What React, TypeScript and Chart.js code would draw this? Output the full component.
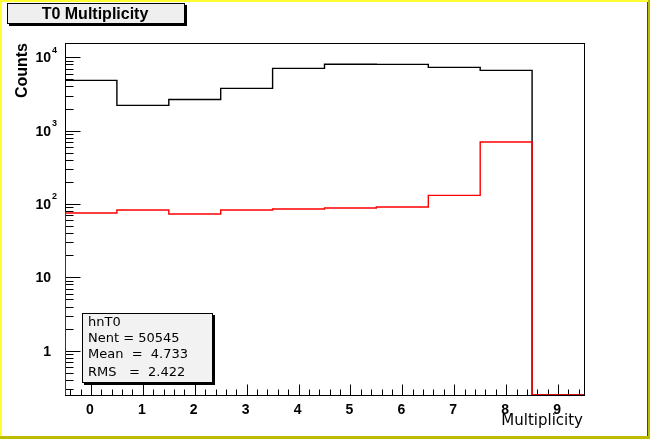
import React, { useEffect, useRef } from "react";
import { Chart, registerables } from "chart.js";

Chart.register(...registerables);

// ---- data ----
const BIN_EDGES = [-0.5, 0.5, 1.5, 2.5, 3.5, 4.5, 5.5, 6.5, 7.5, 8.5, 9.5];
const BLACK_COUNTS = [4850, 2210, 2660, 3770, 7060, 8040, 8010, 7300, 6640, 0];
const RED_COUNTS = [75.4, 82.8, 73.1, 82.8, 85.5, 88.2, 91.0, 131, 701, 0];
const X_TICK_LABELS = ["0", "1", "2", "3", "4", "5", "6", "7", "8", "9"];
const X_TICK_VALUES = [0, 1, 2, 3, 4, 5, 6, 7, 8, 9];
const Y_MAJOR_VALUES = [1, 10, 100, 1000, 10000];
const Y_LABEL_BASES = ["1", "10", "10", "10", "10"];
const Y_LABEL_EXPS = ["", "", "2", "3", "4"];
const X_MIN = -0.5;
const X_MAX = 9.5;
const Y_MIN = 0.249;
const Y_MAX = 15670;
const TITLE = "T0 Multiplicity";
const X_TITLE = "Multiplicity";
const Y_TITLE = "Counts";
const STATS_LINES = ["hnT0", "Nent = 50545", "Mean  =  4.733", "RMS   =  2.422"];

function histPoints(counts: number[]) {
  const pts: { x: number; y: number }[] = [];
  pts.push({ x: BIN_EDGES[0], y: Y_MIN });
  counts.forEach((c, i) => {
    pts.push({ x: BIN_EDGES[i], y: c > 0 ? c : Y_MIN });
  });
  const last = counts[counts.length - 1];
  pts.push({ x: BIN_EDGES[BIN_EDGES.length - 1], y: last > 0 ? last : Y_MIN });
  return pts;
}

const rootPlugin = {
  id: "rootStyle",
  beforeDraw(chart: any) {
    const { ctx, width, height } = chart;
    ctx.save();
    ctx.fillStyle = "#ffffff";
    ctx.fillRect(0, 0, width, height);
    ctx.fillStyle = "#ffff33";
    ctx.fillRect(0, 0, width, 2);
    ctx.fillRect(0, 0, 2, height);
    ctx.fillStyle = "#bcbc00";
    ctx.fillRect(width - 2, 0, 2, height);
    ctx.fillRect(0, height - 3, width, 3);
    ctx.fillStyle = "#e00000";
    ctx.fillRect(width - 3, 2, 1, height - 5);
    ctx.restore();
  },
  beforeDatasetsDraw(chart: any) {
    const { ctx, chartArea } = chart;
    const xs = chart.scales.x;
    const ys = chart.scales.y;
    const L = Math.round(chartArea.left);
    const R = Math.round(chartArea.right);
    const T = Math.round(chartArea.top);
    const B = Math.round(chartArea.bottom);
    ctx.save();
    ctx.strokeStyle = "#000000";
    ctx.lineWidth = 1;
    // frame
    ctx.strokeRect(L + 0.5, T + 0.5, R - L, B - T);
    // x ticks
    ctx.beginPath();
    for (let k = -2; k <= 47; k++) {
      const v = k / 5;
      const px = Math.round(xs.getPixelForValue(v)) + 0.5;
      const len = k % 5 === 0 ? 11 : 6;
      ctx.moveTo(px, B + 0.5);
      ctx.lineTo(px, B + 0.5 - len);
    }
    // y ticks
    for (let e = -1; e <= 4; e++) {
      for (let m = 1; m <= 9; m++) {
        const v = m * Math.pow(10, e);
        if (v < Y_MIN || v > Y_MAX) continue;
        const py = Math.round(ys.getPixelForValue(v)) + 0.5;
        const len = m === 1 ? 15 : 8;
        ctx.moveTo(L + 0.5, py);
        ctx.lineTo(L + 0.5 + len, py);
      }
    }
    ctx.stroke();

    // x labels
    ctx.fillStyle = "#000000";
    ctx.font = "bold 14px 'Liberation Sans'";
    ctx.textAlign = "center";
    ctx.textBaseline = "alphabetic";
    X_TICK_VALUES.forEach((v, i) => {
      const px = xs.getPixelForValue(v);
      ctx.fillText(X_TICK_LABELS[i], px - 1, 414);
    });
    // y labels
    Y_MAJOR_VALUES.forEach((v, i) => {
      const py = ys.getPixelForValue(v);
      ctx.font = "bold 14px 'Liberation Sans'";
      ctx.textAlign = "right";
      ctx.textBaseline = "middle";
      const exp = Y_LABEL_EXPS[i];
      ctx.fillText(Y_LABEL_BASES[i], 51, py + 1);
      if (exp) {
        ctx.font = "bold 9px 'Liberation Sans'";
        ctx.textAlign = "left";
        ctx.fillText(exp, 52, py - 7);
      }
    });
    // axis titles
    ctx.font = "15px 'DejaVu Sans'";
    ctx.textAlign = "right";
    ctx.textBaseline = "alphabetic";
    ctx.fillText(X_TITLE, R - 1, 425);
    ctx.save();
    ctx.translate(27, 43);
    ctx.rotate(-Math.PI / 2);
    ctx.font = "bold 16px 'Liberation Sans'";
    ctx.textAlign = "right";
    ctx.textBaseline = "alphabetic";
    ctx.fillText(Y_TITLE, 0, 0);
    ctx.restore();
    ctx.restore();
  },
  afterDraw(chart: any) {
    const { ctx } = chart;
    ctx.save();
    // title box
    ctx.fillStyle = "#000000";
    ctx.fillRect(9, 5, 178, 21);
    ctx.fillStyle = "#efefef";
    ctx.fillRect(7, 3, 178, 21);
    ctx.strokeStyle = "#000000";
    ctx.lineWidth = 1;
    ctx.strokeRect(7.5, 3.5, 177, 20);
    ctx.fillStyle = "#000000";
    ctx.font = "bold 16px 'Liberation Sans'";
    ctx.textAlign = "center";
    ctx.textBaseline = "alphabetic";
    ctx.fillText(TITLE, 95, 19);
    // stats box
    ctx.fillStyle = "#000000";
    ctx.fillRect(84, 315, 131, 70);
    ctx.fillStyle = "#f2f2f2";
    ctx.fillRect(82, 313, 131, 70);
    ctx.strokeRect(82.5, 313.5, 130, 69);
    ctx.fillStyle = "#000000";
    ctx.font = "13px 'DejaVu Sans'";
    ctx.textAlign = "left";
    const baselines = [326, 342, 358, 376];
    STATS_LINES.forEach((s, i) => ctx.fillText(s, 88, baselines[i]));
    ctx.restore();
  },
};

export default function App() {
  const ref = useRef<HTMLCanvasElement | null>(null);
  useEffect(() => {
    if (!ref.current) return;
    const chart = new Chart(ref.current, {
      type: "line",
      data: {
        datasets: [
          {
            label: "red",
            data: histPoints(RED_COUNTS),
            borderColor: "#ff0000",
            borderWidth: 1.4,
            pointRadius: 0,
            stepped: true,
            fill: false,
          },
          {
            label: "black",
            data: histPoints(BLACK_COUNTS),
            borderColor: "#000000",
            borderWidth: 1.4,
            pointRadius: 0,
            stepped: true,
            fill: false,
          },
        ],
      },
      options: {
        responsive: false,
        animation: false,
        devicePixelRatio: 1,
        layout: { padding: { left: 65, top: 43, right: 66, bottom: 44 } },
        plugins: {
          legend: { display: false },
          tooltip: { enabled: false },
          title: { display: false },
        },
        scales: {
          x: { type: "linear", min: X_MIN, max: X_MAX, display: false, bounds: "data" },
          y: { type: "logarithmic", min: Y_MIN, max: Y_MAX, display: false, bounds: "data" },
        },
      },
      plugins: [rootPlugin],
    });
    return () => chart.destroy();
  }, []);
  return (
    <div style={{ position: "fixed", left: 0, top: 0, width: 650, height: 439 }}>
      <canvas ref={ref} width={650} height={439} style={{ display: "block" }} />
    </div>
  );
}
